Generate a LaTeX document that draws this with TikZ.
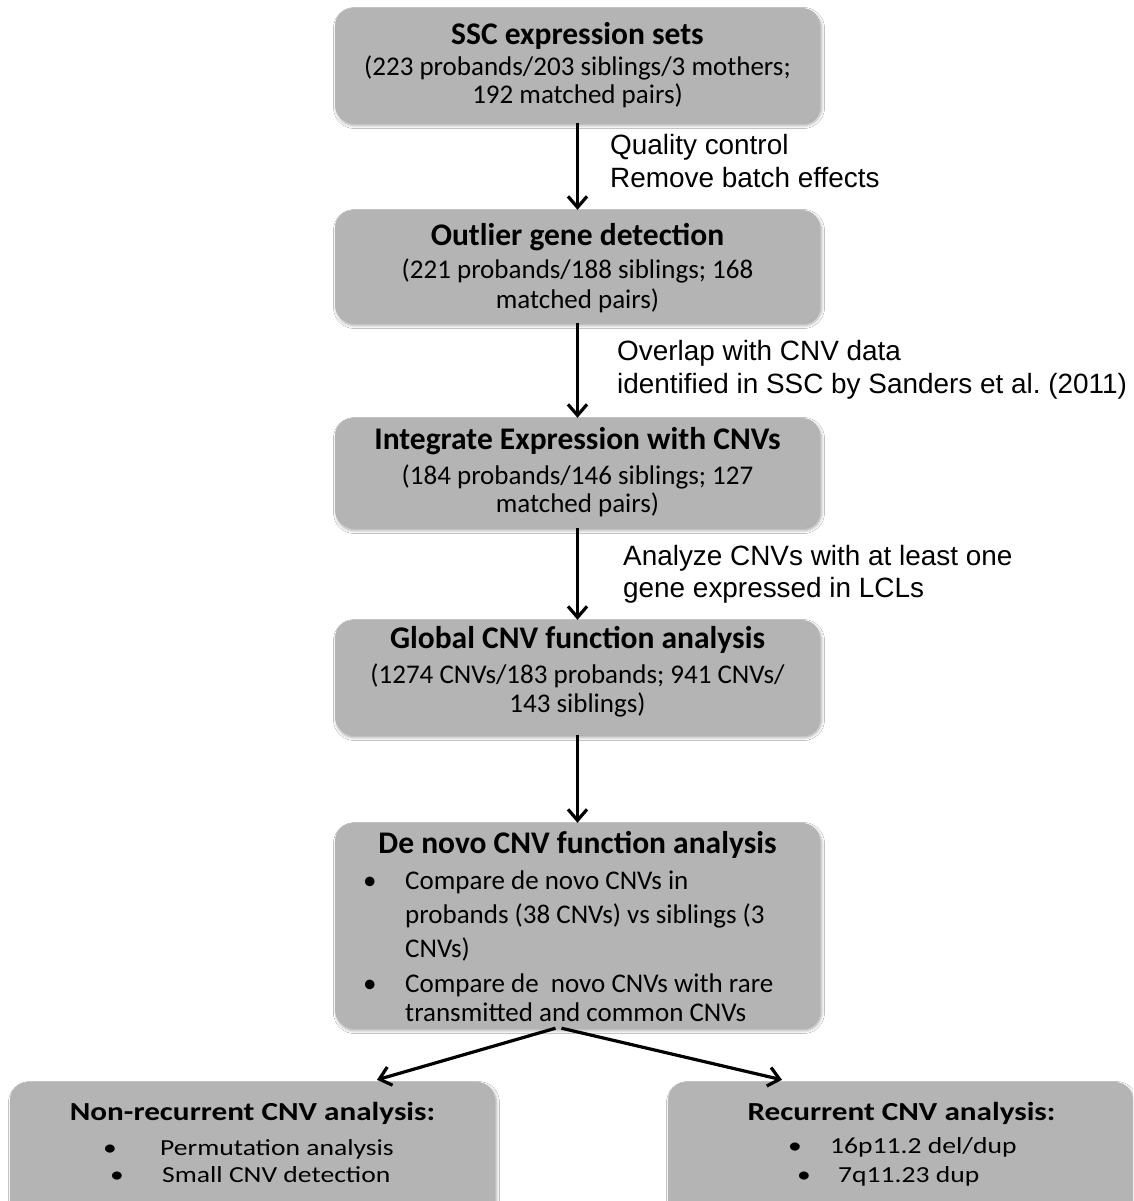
\documentclass[tikz,border=0pt]{standalone}
\usepackage{fontspec}
\setmainfont{Carlito}
\newfontfamily\lab{Liberation Sans}
\newfontfamily\wide[FakeStretch=1.2]{Carlito}
\usetikzlibrary{arrows.meta,calc,shadows.blur}
\definecolor{boxgray}{RGB}{180,180,180}
\frenchspacing
\begin{document}
\begin{tikzpicture}[x=1pt,y=-1pt,
 box/.style={draw=none, fill=boxgray, rounded corners=18pt, minimum width=485pt, inner sep=0pt,
   blur shadow={shadow xshift=1.5pt, shadow yshift=-2.5pt, shadow opacity=35, shadow blur radius=3pt}},
 ttl/.style={anchor=base, font=\fontsize{31.5}{34}\selectfont\bfseries, inner sep=0pt},
 bdy/.style={anchor=base, font=\fontsize{27}{30}\selectfont, inner sep=0pt},
 bdyw/.style={anchor=base west, font=\fontsize{27}{30}\selectfont, inner sep=0pt},
 wttl/.style={anchor=base, font=\wide\fontsize{26}{30}\selectfont\bfseries, inner sep=0pt},
 wbdy/.style={anchor=base west, font=\wide\fontsize{23}{27}\selectfont, inner sep=0pt},
 lbl/.style={anchor=base west, font=\lab\fontsize{27.9}{31}\selectfont, inner sep=0pt},
 arr/.style={line width=3.2pt, -{Straight Barb[length=11pt,width=19pt]}},
]
\clip (0,0) rectangle (1133,1201);
\fill[white] (0,0) rectangle (1133,1201);

% box 1
\node[box, minimum height=115pt] (b1) at (577.5,65.5) {};
\node[ttl] (b1t) at (577.5,45) {SSC expression sets};
\node[bdy] (b1a) at (577.5,76) {(223 probands/203 siblings/3 mothers;};
\node[bdy] (b1b) at (577.5,104) {192 matched pairs)};

% box 2
\node[box, minimum height=113pt] (b2) at (577.5,266.5) {};
\node[ttl] (b2t) at (577.5,245) {Outlier gene detection};
\node[bdy] (b2a) at (577.5,278) {(221 probands/188 siblings; 168};
\node[bdy] (b2b) at (577.5,308) {matched pairs)};

% box 3
\node[box, minimum height=110pt] (b3) at (577.5,473) {};
\node[ttl] (b3t) at (577.5,449) {Integrate Expression with CNVs};
\node[bdy] (b3a) at (577.5,484) {(184 probands/146 siblings; 127};
\node[bdy] (b3b) at (577.5,512) {matched pairs)};

% box 4
\node[box, minimum height=115pt] (b4) at (577.5,677.5) {};
\node[ttl] (b4t) at (577.5,648) {Global CNV function analysis};
\node[bdy] (b4a) at (577.5,683) {(1274 CNVs/183 probands; 941 CNVs/};
\node[bdy] (b4b) at (577.5,712) {143 siblings)};

% box 5
\node[box, minimum height=205pt] (b5) at (577.5,925.5) {};
\node[ttl] (b5t) at (577.5,853) {De novo CNV function analysis};
\node[bdyw] (b5p1) at (363,889) {•};
\node[bdyw] (b5a) at (405,889) {Compare de novo CNVs in};
\node[bdyw] (b5b) at (405,923) {probands (38 CNVs) vs siblings (3};
\node[bdyw] (b5c) at (405,957) {CNVs)};
\node[bdyw] (b5p2) at (363,992) {•};
\node[bdyw] (b5d) at (405,992) {Compare de\ \ novo CNVs with rare};
\node[bdyw] (b5e) at (405,1021) {transmitted and common CNVs};

% bottom left
\node[box, minimum height=140pt] (nr) at (252.5,1152) {};
\node[wttl] (nrt) at (252.5,1120) {Non-recurrent CNV analysis:};
\node[wbdy] (nrp1) at (103,1155) {•};
\node[wbdy] (nra) at (160,1155) {Permutation analysis};
\node[wbdy] (nrp2) at (110,1182) {•};
\node[wbdy] (nrb) at (162,1182) {Small CNV detection};

% bottom right
\node[box, minimum width=465pt, minimum height=140pt] (rc) at (900.5,1152) {};
\node[wttl] (rct) at (901.5,1120) {Recurrent CNV analysis:};
\node[wbdy] (rcp1) at (788,1153) {•};
\node[wbdy] (rca) at (830,1153) {16p11.2 del/dup};
\node[wbdy] (rcp2) at (797,1182) {•};
\node[wbdy] (rcb) at (838,1182) {7q11.23 dup};

% labels
\node[lbl] (l1a) at (610,155) {Quality control};
\node[lbl] (l1b) at (610,188) {Remove batch effects};
\node[lbl] (l2a) at (617,360) {Overlap with CNV data};
\node[lbl] (l2b) at (617,393) {identified in SSC by Sanders et al. (2011)};
\node[lbl] (l3a) at (623,565) {Analyze CNVs with at least one};
\node[lbl] (l3b) at (623,597) {gene expressed in LCLs};

% arrows
\draw[arr] (b1) -- (b2);
\draw[arr] (b2) -- (b3);
\draw[arr] (b3) -- (b4);
\draw[arr] (b4) -- (b5);
\draw[arr] ($(b5.south)+(-22,0)$) -- ($(nr.north)+(124.5,-2)$);
\draw[arr] ($(b5.south)+(-16,0)$) -- ($(rc.north)+(-118.5,-2)$);
\end{tikzpicture}
\end{document}
